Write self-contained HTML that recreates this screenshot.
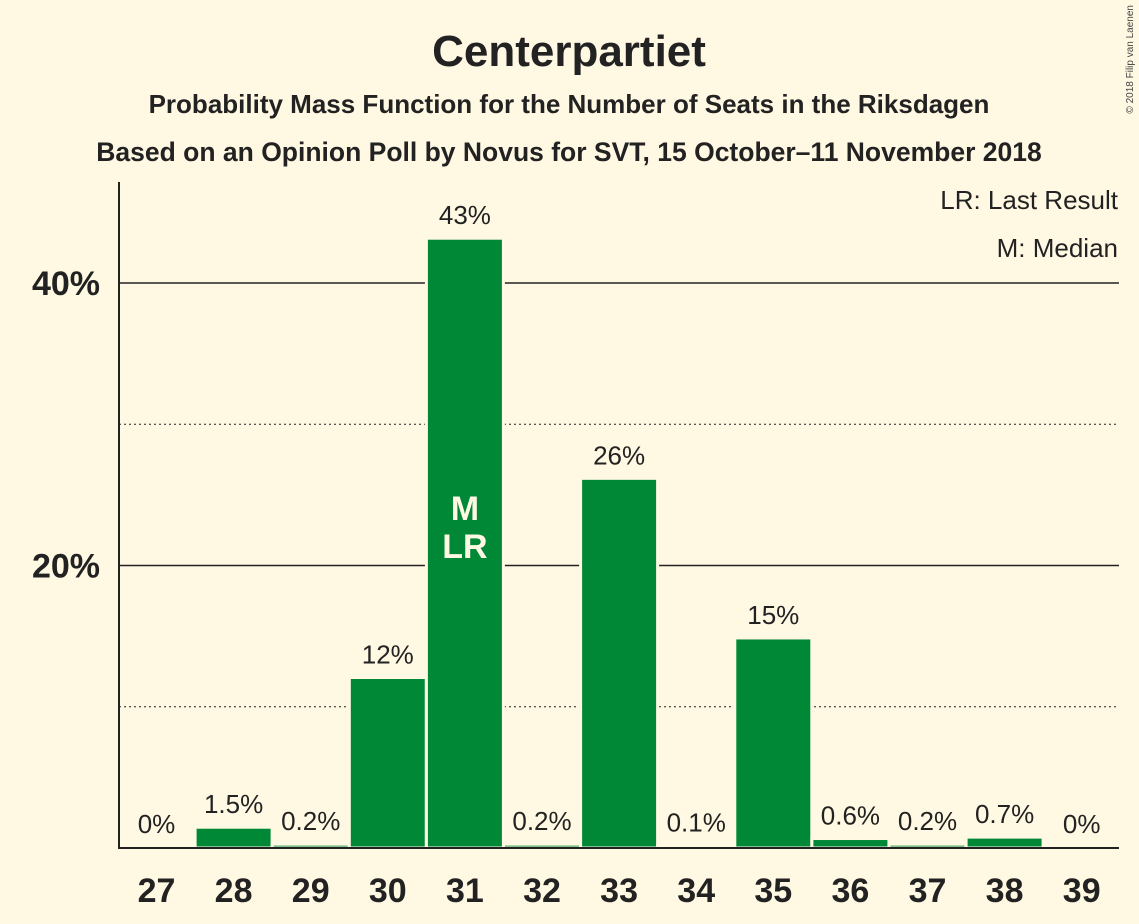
<!DOCTYPE html>
<html><head><meta charset="utf-8"><style>
body{margin:0;background:#fff8e2;}
svg{display:block;font-family:"Liberation Sans",sans-serif;}
</style></head><body>
<svg id="chart" width="1139" height="924">
<rect width="1139" height="924" fill="#fff8e2"/>
<text x="569" y="66" text-anchor="middle" font-size="44" font-weight="bold" fill="#222">Centerpartiet</text>
<text x="569" y="113" text-anchor="middle" font-size="26" font-weight="bold" fill="#222">Probability Mass Function for the Number of Seats in the Riksdagen</text>
<text x="569" y="161" text-anchor="middle" font-size="26.5" font-weight="bold" fill="#222">Based on an Opinion Poll by Novus for SVT, 15 October–11 November 2018</text>
<text x="1133" y="5" transform="rotate(-90 1133 5)" text-anchor="end" font-size="10" fill="#444">© 2018 Filip van Laenen</text>
<g id="grid"></g>
<g id="bars"></g>
<line x1="119" y1="182" x2="119" y2="849" stroke="#222" stroke-width="2"/>
<line x1="118" y1="848" x2="1119" y2="848" stroke="#222" stroke-width="2"/>
<text x="1118" y="209" text-anchor="end" font-size="26" fill="#222">LR: Last Result</text>
<text x="1118" y="257" text-anchor="end" font-size="26" fill="#222">M: Median</text>
</svg>
<script>
const seats=[27,28,29,30,31,32,33,34,35,36,37,38,39];
const probs=[0,1.4,0.2,12.0,43.1,0.2,26.1,0.1,14.8,0.6,0.2,0.7,0];
const labels=["0%","1.5%","0.2%","12%","43%","0.2%","26%","0.1%","15%","0.6%","0.2%","0.7%","0%"];
const yTicks=[10,20,30,40];
const yTickLabels=["","20%","","40%"];
const medianSeat=31, lastResultSeat=31;
const NS="http://www.w3.org/2000/svg";
const y=v=>848-v*14.125;
const x=s=>156.5+(s-27)*77.1;
const grid=document.getElementById('grid'), bars=document.getElementById('bars');
function mk(t,a,p){const e=document.createElementNS(NS,t);for(const k in a)e.setAttribute(k,a[k]);p.appendChild(e);return e;}
yTicks.forEach((t,i)=>{
  const major=t%20===0;
  const l=mk('line',{x1:119,x2:1119,y1:y(t),y2:y(t),stroke:'#222','stroke-width':major?1.5:1,'stroke-dasharray':major?'':'2,3'},grid);
  
  
  if(yTickLabels[i]){
    const tx=mk('text',{x:100,y:y(t)+12,'text-anchor':'end','font-size':34,'font-weight':'bold',fill:'#222'},grid);
    tx.textContent=yTickLabels[i];
    
    
  }
});
seats.forEach((s,i)=>{
  const cx=x(s), v=probs[i];
  const r=mk('rect',{x:cx-38.5,y:y(v)-1,width:77,height:848-y(v)+1,fill:'#008837',stroke:'#fff8e2','stroke-width':3},bars);
  
  
  const lt=mk('text',{x:cx,y:y(v)-15,'text-anchor':'middle','font-size':26,fill:'#222'},bars);
  lt.textContent=labels[i];
  
  
  const xt=mk('text',{x:cx,y:902,'text-anchor':'middle','font-size':34,'font-weight':'bold',fill:'#222'},bars);
  xt.textContent=s;
  
  
  if(s===medianSeat){
    const m=mk('text',{x:cx,y:520,'text-anchor':'middle','font-size':34,'font-weight':'bold',fill:'#fff8e2'},bars);
    m.textContent='M';
    
    
  }
  if(s===lastResultSeat){
    const m=mk('text',{x:cx,y:558,'text-anchor':'middle','font-size':34,'font-weight':'bold',fill:'#fff8e2'},bars);
    m.textContent='LR';
    
    
  }
});
</script>
</body></html>
